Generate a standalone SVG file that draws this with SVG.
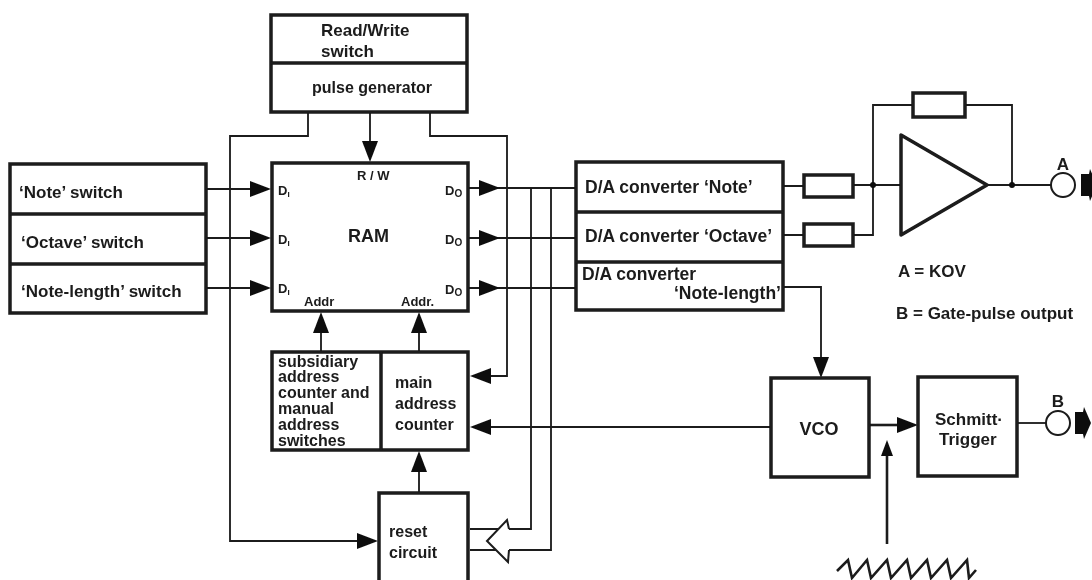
<svg xmlns="http://www.w3.org/2000/svg" width="1092" height="580" viewBox="0 0 1092 580">
<style>
.b{fill:#fff;stroke:#1a1a1a;stroke-width:3.5}
.l{fill:none;stroke:#1a1a1a;stroke-width:1.8}
.a{fill:#111;stroke:none}
text{font-family:"Liberation Sans",Arial,sans-serif;font-weight:bold;fill:#1a1a1a;font-size:17px}
.m{font-size:16px}
.d{font-size:17.5px}
.t{font-size:18px}
.s{font-size:13px}
.i{font-size:8px}
.o{font-size:10px}
</style>
<defs>
<filter id="scan" filterUnits="userSpaceOnUse" x="0" y="0" width="1092" height="580"><feGaussianBlur stdDeviation="0.45"/></filter>
<path id="ar" class="a" d="M0 0L-21 -8V8Z"/>
<path id="bk" class="a" d="M0 -11H8L9 -16L16 0L9 16L8 11H0Z"/>
</defs>
<rect width="1092" height="580" fill="#fff"/>
<g filter="url(#scan)">
<g id="connectors">
<path class="l" d="M308 112V136H230V541H360"/>
<path class="l" d="M430 112V136H507V376H488"/>
<path class="l" d="M370 112V145"/>
<path class="l" d="M206 189H255M206 238H255M206 288H255"/>
<path class="l" d="M468 188H485M468 238H485M468 288H485"/>
<path class="l" d="M495 188H576M495 238H576M495 288H576"/>
<path class="l" d="M531 188V529H509M470 529H498"/>
<path class="l" d="M551 188V550H509M470 550H498"/>
<path class="l" d="M321 352V325M419 352V325M419 493V465"/>
<path class="l" d="M771 427H490"/>
<path class="l" d="M783 186H805M783 235H805M853 185H901M853 235H873V105H913M965 105H1012V185M987 185H1051"/>
<path class="l" d="M783 287H821V360"/>
<path class="l" style="stroke-width:2.6" d="M869 425H900"/>
<path class="l" style="stroke-width:2.6" d="M887 544V450"/>
<path class="l" d="M1017 423H1046"/>
<path class="l" style="stroke-width:2.6" d="M837 571L848 560L852 578L867 560L871 578L887 560L891 578L907 560L911 578L927 560L931 578L947 560L951 578L967 560L969 578L976 570"/>
<use href="#ar" x="271" y="189"/><use href="#ar" x="271" y="238"/><use href="#ar" x="271" y="288"/>
<use href="#ar" x="500" y="188"/><use href="#ar" x="500" y="238"/><use href="#ar" x="500" y="288"/>
<use href="#ar" x="370" y="162" transform="rotate(90 370 162)"/>
<use href="#ar" x="321" y="312" transform="rotate(-90 321 312)"/>
<use href="#ar" x="419" y="312" transform="rotate(-90 419 312)"/>
<use href="#ar" x="419" y="451" transform="rotate(-90 419 451)"/>
<use href="#ar" x="470" y="376" transform="rotate(180 470 376)"/>
<use href="#ar" x="470" y="427" transform="rotate(180 470 427)"/>
<use href="#ar" x="378" y="541"/>
<use href="#ar" x="821" y="378" transform="rotate(90 821 378)"/>
<use href="#ar" x="918" y="425"/>
<path class="a" d="M887 440L881 456H893Z"/>
<path fill="#fff" stroke="#1a1a1a" stroke-width="2" d="M509 529L507 520L487 541L508 562L509 550"/>
<circle class="a" cx="873" cy="185" r="3"/>
<circle class="a" cx="1012" cy="185" r="3"/>
<use href="#bk" x="1081" y="185"/>
<use href="#bk" x="1075" y="423"/>
</g>
<g id="rw"><rect class="b" x="271" y="15" width="196" height="97"/><path class="b" d="M271 63H467"/><text x="321" y="36">Read/Write</text><text x="321" y="57">switch</text><text class="m" x="312" y="93">pulse generator</text></g>
<g id="switches"><rect class="b" x="10" y="164" width="196" height="149"/><path class="b" d="M10 214H206M10 264H206"/><text x="19" y="198">‘Note’ switch</text><text x="21" y="248">‘Octave’ switch</text><text x="21" y="297">‘Note-length’ switch</text></g>
<g id="ram"><rect class="b" x="272" y="163" width="196" height="148"/>
<text class="s" x="357" y="180">R / W</text>
<text class="s" x="278" y="195">D<tspan class="i" dy="2">I</tspan></text><text class="s" x="278" y="244">D<tspan class="i" dy="2">I</tspan></text><text class="s" x="278" y="293">D<tspan class="i" dy="2">I</tspan></text>
<text class="s" x="445" y="195">D<tspan class="o" dy="2">O</tspan></text><text class="s" x="445" y="244">D<tspan class="o" dy="2">O</tspan></text><text class="s" x="445" y="294">D<tspan class="o" dy="2">O</tspan></text>
<text class="t" x="348" y="242">RAM</text>
<text class="s" x="304" y="306">Addr</text><text class="s" x="401" y="306">Addr.</text></g>
<g id="counters"><rect class="b" x="272" y="352" width="196" height="98"/><path class="b" d="M381 352V450"/>
<text class="m" x="278" y="367">subsidiary</text><text class="m" x="278" y="382">address</text><text class="m" x="278" y="398">counter and</text><text class="m" x="278" y="414">manual</text><text class="m" x="278" y="430">address</text><text class="m" x="278" y="446">switches</text>
<text class="m" x="395" y="388">main</text><text class="m" x="395" y="409">address</text><text class="m" x="395" y="430">counter</text></g>
<g id="reset"><path class="b" d="M379 584V493H468V584"/><text class="m" x="389" y="537">reset</text><text class="m" x="389" y="558">circuit</text></g>
<g id="da"><rect class="b" x="576" y="162" width="207" height="148"/><path class="b" d="M576 212H783M576 262H783"/><text class="d" x="585" y="193">D/A converter ‘Note’</text><text class="d" x="585" y="242">D/A converter ‘Octave’</text><text class="d" x="582" y="280">D/A converter</text><text class="d" x="674" y="299">‘Note-length’</text></g>
<g id="amp"><rect class="b" x="804" y="175" width="49" height="22"/><rect class="b" x="804" y="224" width="49" height="22"/><rect class="b" x="913" y="93" width="52" height="24"/><path class="b" stroke-linejoin="round" d="M901 135V235L987 185Z"/></g>
<g id="outA"><circle fill="#fff" stroke="#1a1a1a" stroke-width="2" cx="1063" cy="185" r="12"/><text x="1063" y="170" text-anchor="middle">A</text></g>
<g id="legend"><text x="898" y="277">A = KOV</text><text x="896" y="319">B = Gate-pulse output</text></g>
<g id="vco"><rect class="b" x="771" y="378" width="98" height="99"/><text class="t" x="819" y="435" text-anchor="middle">VCO</text></g>
<g id="schmitt"><rect class="b" x="918" y="377" width="99" height="99"/><text x="935" y="425">Schmitt·</text><text x="939" y="445">Trigger</text></g>
<g id="outB"><circle fill="#fff" stroke="#1a1a1a" stroke-width="2" cx="1058" cy="423" r="12"/><text x="1058" y="407" text-anchor="middle">B</text></g>
</g>
</svg>
